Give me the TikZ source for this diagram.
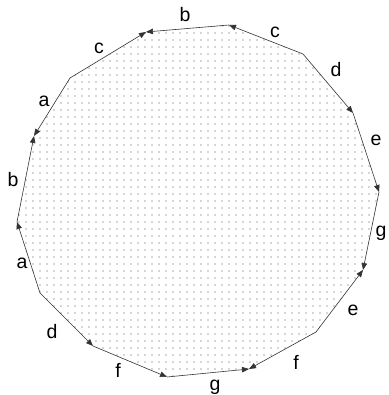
\documentclass[tikz,border=0pt]{standalone}
\usepackage{fontspec}
\setmainfont{Liberation Sans}
\usetikzlibrary{arrows.meta, patterns.meta}

\tikzset{
  side/.style={draw=black!80, line width=0.6pt, -{Triangle[length=7pt, width=5.5pt]}},
  lbl/.style={font=\fontsize{19.5}{22}\selectfont, inner sep=0pt},
}

\begin{document}
\begin{tikzpicture}[x=1pt, y=1pt]
\useasboundingbox (0,0) rectangle (388,395);

% Corners of the polygon
\coordinate (v1) at (229,370);
\coordinate (v2) at (303,341);
\coordinate (v3) at (353,282);
\coordinate (v4) at (379,203);
\coordinate (v5) at (363,125);
\coordinate (v6) at (316,63);
\coordinate (v7) at (249,26);
\coordinate (v8) at (167,18);
\coordinate (v9) at (93,49);
\coordinate (v10) at (40,102);
\coordinate (v11) at (17,173);
\coordinate (v12) at (34,259);
\coordinate (v13) at (70,317);
\coordinate (v14) at (146,363);

% Dotted face
\fill[pattern={Dots[distance=6.5pt, radius=0.6pt]}, pattern color=black!70]
  (v1) -- (v2) -- (v3) -- (v4) -- (v5) -- (v6) -- (v7) -- (v8) -- (v9)
  -- (v10) -- (v11) -- (v12) -- (v13) -- (v14) -- cycle;

% Sides, tip at the end vertex
\draw[side] (v1) -- (v14);
\draw[side] (v2) -- (v1);
\draw[side] (v2) -- (v3);
\draw[side] (v3) -- (v4);
\draw[side] (v4) -- (v5);
\draw[side] (v6) -- (v5);
\draw[side] (v6) -- (v7);
\draw[side] (v8) -- (v7);
\draw[side] (v9) -- (v8);
\draw[side] (v10) -- (v9);
\draw[side] (v10) -- (v11);
\draw[side] (v11) -- (v12);
\draw[side] (v13) -- (v12);
\draw[side] (v13) -- (v14);

% Labels
\node[lbl] (lb1) at (185,380) {b};
\node[lbl] (lc1) at (275,363) {c};
\node[lbl] (ld1) at (336,325) {d};
\node[lbl] (le1) at (376,255) {e};
\node[lbl] (lg1) at (381,162) {g};
\node[lbl] (le2) at (353,85) {e};
\node[lbl] (lf1) at (296,33) {f};
\node[lbl] (lg2) at (215,8) {g};
\node[lbl] (lf2) at (118,25) {f};
\node[lbl] (ld2) at (52,63) {d};
\node[lbl] (la1) at (22,132) {a};
\node[lbl] (lb2) at (13,215) {b};
\node[lbl] (la2) at (44,294) {a};
\node[lbl] (lc2) at (99,347) {c};

\end{tikzpicture}
\end{document}
